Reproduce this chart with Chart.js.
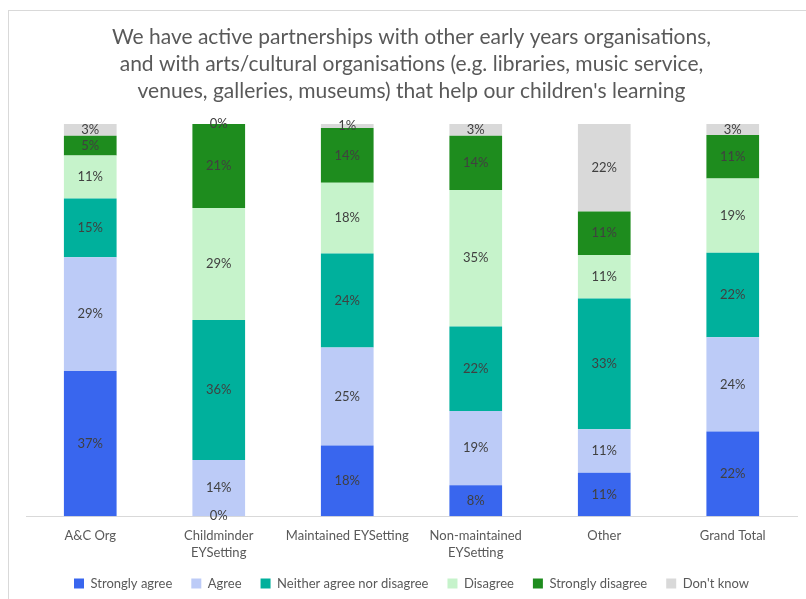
<!DOCTYPE html>
<html>
<head>
<meta charset="utf-8">
<script src="https://cdn.jsdelivr.net/npm/chart.js@4/dist/chart.umd.min.js"></script>
<style>
  html, body { margin: 0; padding: 0; background: #fff; }
  #wrap { position: relative; width: 806px; height: 599px; }
  #frame {
    position: absolute; left: 8px; top: 10px; width: 820px; height: 620px;
    border: 1px solid #d9d9d9; box-sizing: border-box; pointer-events: none;
  }
</style>
</head>
<body>
<div id="wrap">
  <canvas id="chart" width="806" height="599"></canvas>
  <div id="frame"></div>
</div>
<script>
  const categories = ["A&C Org", ["Childminder", "EYSetting"], "Maintained EYSetting", ["Non-maintained", "EYSetting"], "Other", "Grand Total"];
  const seriesNames = ["Strongly agree", "Agree", "Neither agree nor disagree", "Disagree", "Strongly disagree", "Don't know"];
  const stronglyAgree = [37, 0, 18, 7.9, 11.1, 21.6];
  const agree = [29, 14.3, 25, 18.9, 11.1, 24.0];
  const neither = [15, 35.7, 24, 21.6, 33.3, 21.6];
  const disagree = [11, 28.6, 18, 34.8, 11.1, 18.9];
  const stronglyDisagree = [5, 21.4, 14, 13.8, 11.1, 11.1];
  const dontKnow = [3, 0, 1, 3.0, 22.3, 2.8];
  const colours = ["#3966ee", "#bccbf7", "#00b09c", "#c6f3cb", "#1e8c1e", "#d9d9d9"];

  const FONT = "Lato, 'Liberation Sans', sans-serif";

  // percent labels in the middle of every segment (zero ones too)
  const barLabels = {
    id: "barLabels",
    afterDatasetsDraw(chart) {
      const ctx = chart.ctx;
      ctx.save();
      ctx.font = "13px " + FONT;
      ctx.fillStyle = "#404040";
      ctx.textAlign = "center";
      ctx.textBaseline = "middle";
      chart.data.datasets.forEach((ds, i) => {
        const meta = chart.getDatasetMeta(i);
        meta.data.forEach((bar, j) => {
          const p = bar.getProps(["x", "y", "base"], true);
          ctx.fillText(Math.round(ds.data[j]) + "%", p.x, (p.y + p.base) / 2);
        });
      });
      ctx.restore();
    }
  };

  const seriesData = [stronglyAgree, agree, neither, disagree, stronglyDisagree, dontKnow];

  new Chart(document.getElementById("chart"), {
    type: "bar",
    data: {
      labels: categories,
      datasets: seriesNames.map((name, i) => ({
        label: name,
        data: seriesData[i],
        backgroundColor: colours[i],
        borderWidth: 0,
        categoryPercentage: 1,
        barPercentage: 0.41
      }))
    },
    options: {
      responsive: false,
      animation: false,
      layout: { padding: { left: 26, right: 9, top: 0, bottom: -1 } },
      scales: {
        x: {
          stacked: true,
          grid: { display: false },
          border: { color: "#d9d9d9", width: 1 },
          ticks: {
            color: "#595959",
            font: { family: FONT, size: 13, lineHeight: 1.3 },
            maxRotation: 0, autoSkip: false, padding: 3
          },
          afterFit(scale) {
            // pull the legend a bit closer, and don't clip the 2-line labels
            scale.height -= 6;
            scale._computeLabelArea = () => null;
          }
        },
        y: { stacked: true, display: false, min: 0, max: 100 }
      },
      plugins: {
        title: {
          display: true,
          text: [
            "We have active partnerships with other early years organisations,",
            "and with arts/cultural organisations (e.g. libraries, music service,",
            "venues, galleries, museums) that help our children's learning"
          ],
          color: "#595959",
          font: { family: FONT, size: 21, weight: "normal", lineHeight: 1.286 },
          padding: { top: 24, bottom: 19 }
        },
        legend: {
          position: "bottom",
          labels: {
            color: "#595959",
            font: { family: FONT, size: 13 },
            boxWidth: 10,
            boxHeight: 10,
            padding: 19
          }
        },
        tooltip: { enabled: false }
      }
    },
    plugins: [barLabels]
  });
</script>
</body>
</html>
